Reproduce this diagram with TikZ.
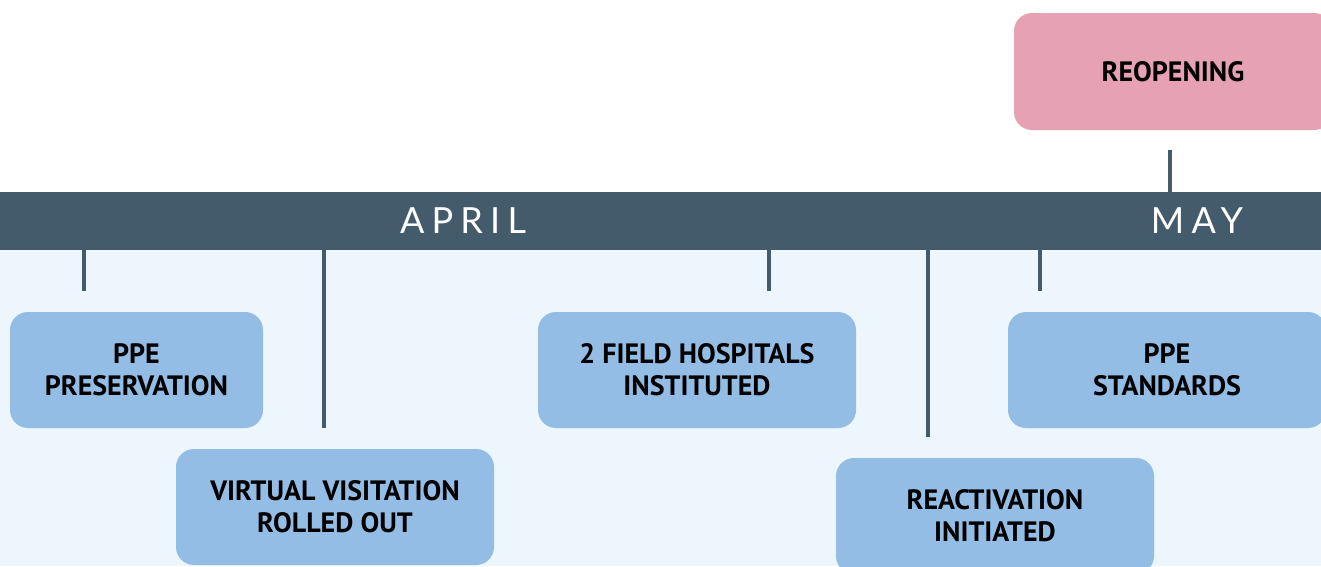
\documentclass[tikz,border=0pt]{standalone}
\usepackage{fontspec}
\setmainfont{PT Sans}
\newfontfamily\monthfont[LetterSpace=20]{Lato}
\definecolor{barslate}{HTML}{445B6B}
\definecolor{paleback}{HTML}{ECF6FC}
\definecolor{boxblue}{HTML}{93BDE4}
\definecolor{rosepink}{HTML}{E6A1B5}

\begin{document}
\begin{tikzpicture}[x=1pt, y=-1pt,
    event/.style={fill=boxblue, rounded corners=18pt, minimum width=318pt, minimum height=116pt,
      inner sep=0pt, align=center, font=\fontsize{28}{32}\selectfont\bfseries},
    month/.style={text=white, font=\monthfont\fontsize{36}{40}\selectfont},
    tick/.style={draw=barslate, line width=4pt}]
    \clip (0,0) rectangle (1321,566);
    \fill[paleback] (0,250) rectangle (1321,566);
    \node[fill=barslate, minimum width=1321pt, minimum height=58pt, inner sep=0pt, anchor=north west] (bar) at (0,192) {};
    \node[month] (april) at (463,221) {APRIL};
    \node[month] (may) at (1197,221) {MAY};

    % events
    \node[event, minimum width=253pt] (preserve) at (136.5,370) {PPE\\PRESERVATION};
    \node[event] (virtual) at (335,507) {VIRTUAL VISITATION\\ROLLED OUT};
    \node[event] (field) at (697,370) {2 FIELD HOSPITALS\\INSTITUTED};
    \node[event] (react) at (995,516) {REACTIVATION\\INITIATED};
    \node[event] (standards) at (1167,370) {PPE\\STANDARDS};
    \node[event, fill=rosepink, minimum height=117pt] (reopen) at (1173,71.5) {REOPENING};

    % ticks
    \coordinate (t1) at (84,291);
    \coordinate (t2) at (324,428);
    \coordinate (t3) at (769,291);
    \coordinate (t4) at (928,437);
    \coordinate (t5) at (1040,291);
    \coordinate (t6) at (1170,150);
    \foreach \t in {t1,t2,t3,t4,t5}
      \draw[tick] (\t |- bar.south) -- (\t);
    \draw[tick] (t6 |- bar.north) -- (t6);
\end{tikzpicture}
\end{document}
